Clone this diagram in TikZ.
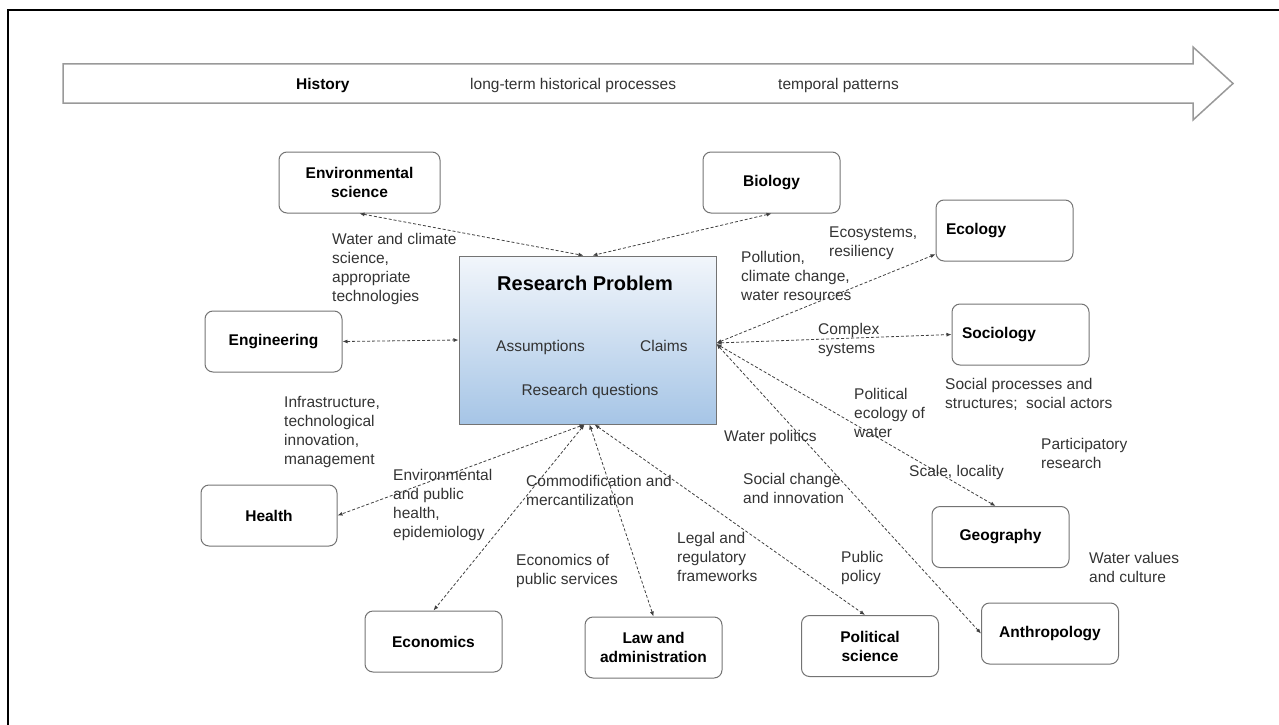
\documentclass[tikz,border=0pt]{standalone}
\usepackage{fontspec}
\setmainfont{Liberation Sans}
\usepackage{tikz}
\usetikzlibrary{arrows.meta}
\definecolor{rptop}{HTML}{F2F6FB}
\definecolor{rpbot}{HTML}{A6C5E6}
\newcommand{\lbl}{\fontsize{15.5}{19}\selectfont}
\tikzset{
  field/.style={draw=black!55, line width=1pt, rounded corners=8pt,
    minimum width=137pt, minimum height=61pt, inner sep=2pt,
    align=center, font=\lbl\bfseries},
  note/.style={anchor=base west, inner sep=0pt, align=left, text=black!80},
  link/.style={black!75, line width=0.8pt, dash pattern=on 3pt off 2pt,
    {Latex[length=5pt,width=4pt]}-{Latex[length=5pt,width=4pt]}},
}

\begin{document}
\begin{tikzpicture}[x=1pt, y=-1pt, font=\lbl]
  \useasboundingbox (0,0) rectangle (1279,725);

  % ---------- frame ----------
  \draw[line width=2pt] (8,725) -- (8,10) -- (1279,10);

  % ---------- history arrow ----------
  \draw[black!40, line width=1.5pt] (63,64) -- (1193,64) -- (1193,47)
        -- (1233,83.5) -- (1193,120) -- (1193,103) -- (63,103) -- cycle;
  \node[anchor=base west, inner sep=0pt, font=\lbl\bfseries] (hist) at (296,89) {History};
  \node[note] (longterm) at (470,89) {long-term historical processes};
  \node[note] (tempo) at (778,89) {temporal patterns};

  % ---------- research problem ----------
  \node[draw=black!55, line width=1pt, minimum width=257pt, minimum height=168pt,
        top color=rptop, bottom color=rpbot] (rp) at (587.5,340) {};
  \node[anchor=base, inner sep=0pt, font=\fontsize{20}{24}\selectfont\bfseries] (rptitle) at (585,290) {Research Problem};
  \node[note] (assum) at (496,351) {Assumptions};
  \node[note] (claims) at (640,351) {Claims};
  \node[anchor=base, inner sep=0pt, text=black!80] (rq) at (590,395) {Research questions};

  % ---------- disciplines ----------
  \node[field, minimum width=161pt] (env) at (359.5,182.5) {Environmental\\science};
  \node[field] (bio) at (771.5,182.5) {Biology};
  \node[field, text width=117pt, align=left] (eco) at (1004.5,230.5) {Ecology};
  \node[field, text width=117pt, align=left] (soc) at (1020.5,334.5) {Sociology};
  \node[field] (eng) at (273.5,341.5) {Engineering};
  \node[field, minimum width=136pt] (health) at (269,515.5) {Health};
  \node[field] (geo) at (1000.5,537) {Geography};
  \node[field] (econ) at (433.5,641.5) {Economics};
  \node[field] (law) at (653.5,647.5) {Law and\\administration};
  \node[field] (pol) at (870,646) {Political\\science};
  \node[field] (anth) at (1050,633.5) {Anthropology};

  % ---------- links ----------
  \draw[link] (env.south) -- ([xshift=-4pt]rp.north);
  \draw[link] (bio.south) -- ([xshift=5pt]rp.north);
  \draw[link] (eng.east) -- (rp.west);
  \draw[link] ([yshift=-3pt]rp.east) -- (eco.199);
  \draw[link] ([yshift=-3pt]rp.east) -- (soc.west);
  \draw[link] ([yshift=-4pt]rp.east) -- ([xshift=-5pt]geo.north);
  \draw[link] ([yshift=-4pt]rp.east) -- (anth.west);
  \draw[link] ([xshift=-3pt]rp.south) -- (health.east);
  \draw[link] ([xshift=-3pt]rp.south) -- (econ.north);
  \draw[link] ([xshift=2pt]rp.south) -- (law.north);
  \draw[link] ([xshift=7pt]rp.south) -- ([xshift=-5pt]pol.north);

  % ---------- link labels (base = last line) ----------
  \node[note] (wcs) at (332,301) {Water and climate\\science,\\appropriate\\technologies};
  \node[note] (ecores) at (829,256) {Ecosystems,\\resiliency};
  \node[note] (poll) at (741,300) {Pollution,\\climate change,\\water resources};
  \node[note] (cplx) at (818,353) {Complex\\systems};
  \node[note] (infra) at (284,464) {Infrastructure,\\technological\\innovation,\\management};
  \node[note] (socproc) at (945,408) {Social processes and\\structures;\ \ social actors};
  \node[note] (polecol) at (854,437) {Political\\ecology of\\water};
  \node[note] (wpol) at (724,441) {Water politics};
  \node[note] (partic) at (1041,468) {Participatory\\research};
  \node[note] (scale) at (909,476) {Scale, locality};
  \node[note] (envhealth) at (393,537) {Environmental\\and public\\health,\\epidemiology};
  \node[note] (commod) at (526,505) {Commodification and\\mercantilization};
  \node[note] (socchg) at (743,503) {Social change\\and innovation};
  \node[note] (econpub) at (516,584) {Economics of\\public services};
  \node[note] (legal) at (677,581) {Legal and\\regulatory\\frameworks};
  \node[note] (pubpol) at (841,581) {Public\\policy};
  \node[note] (wval) at (1089,582) {Water values\\and culture};

\end{tikzpicture}
\end{document}
